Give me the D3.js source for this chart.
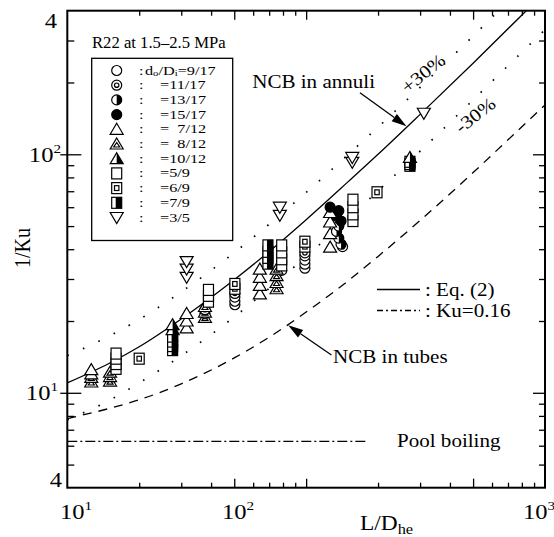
<!DOCTYPE html>
<html>
<head>
<meta charset="utf-8">
<script src="https://cdn.jsdelivr.net/npm/d3@7"></script>
<style>
body{margin:0;background:#fff;}
svg{display:block;}
svg text{font-family:'Liberation Serif','Times New Roman',Times,'DejaVu Serif',serif;}
.tick line{stroke:#000;stroke-width:1.3;}
.axis path{display:none;}
</style>
</head>
<body>
<div id="chart"></div>
<script>
//tick values
const xTickMinor = [20,30,40,60,70,80,90,200,300,400,600,700,800,900];
const xTickMajor = [50,100,500];
const yTickMinor = [5,6,7,8,9,20,30,40,50,60,70,80,90,200,300];
const yTickMajor = [10,100];

//curves: [L/Dhe, 1/Ku]
const eq2 = [[10,11.0],[15,13.3],[20,15.6],[30,20.4],[50,29.8],[70,39.1],[100,53.2],[150,76.8],[200,100],[300,147],[500,241],[835,400]];
const plus30 = [[10,14.3],[15,17.3],[20,20.3],[30,26.5],[50,38.7],[70,50.9],[100,69.2],[150,99.8],[200,130],[300,191],[500,313],[640,400]];
const minus30 = [[10,7.7],[15,9.3],[20,11.0],[30,14.3],[50,20.8],[70,27.4],[100,37.3],[150,53.7],[200,70.2],[300,103],[500,169],[700,235],[1000,333]];
const tubes = [[10,7.8],[15,8.6],[20,9.35],[30,10.9],[50,14.0],[70,17.1],[100,21.8],[150,29.5],[200,37.3],[300,52.8],[500,83.8],[700,115],[1000,161]];
const pool = [[10,6.25],[181,6.25]];

//measured points per do/Di
const s917  = [[37.7,21.5],[50.3,25.2],[50.3,24.2],[50.3,23.4],[79,32.6],[98.8,37.5],[98.8,36],[98.8,34.6],[98.8,33.3]];
const s1117 = [[37.7,22.3],[50.3,26.1],[98.8,38.6],[142,41]];
const s1317 = [[134,47.5],[137,44.5],[140,42],[137,50]];
const s1517 = [[126,60],[137,58],[134,55],[140,52.5]];
const s712  = [[12.6,12.5],[12.6,12.0],[31.6,21.5],[31.6,20.0],[31.6,18.7],[64,33],[64,30.5],[64,28.2],[64,26],[126,57],[126,52],[126,46.5],[126,40.8]];
const s812  = [[12.6,11.6],[12.6,11.1],[15.1,12.2],[15.1,11.7],[15.1,11.2],[37.7,23],[37.7,21.8],[37.7,20.7],[75.2,33],[75.2,31],[75.2,29],[75.2,27.3]];
const s1012 = [[27.6,19.3],[27.6,18.4],[272,97]];
const s59   = [[16,14.6],[16,13.9],[16,13.2],[16,12.6],[39,27],[39,25.5],[39,24.1],[79,41.5],[79,38.8],[79,36.3],[79,34.2],[157,64.5],[157,60],[157,56],[157,52.5]];
const s69   = [[20,13.9],[50.3,28.6],[50.3,27.3],[98.8,43],[98.8,41],[198,69.3]];
const s79   = [[27.6,17.2],[27.6,16.4],[27.6,15.7],[27.6,15.1],[69.2,41.5],[69.2,39],[69.2,36.8],[69.2,34.8],[272,93],[272,91],[272,89.5]];
const s35   = [[31.6,35.5],[31.6,33],[31.6,30.5],[77.6,60],[77.6,55.5],[156,97],[156,92.5],[311,148.6]];

const seriesLabels = ['9/17','=11/17','=13/17','=15/17','=\u20077/12','=\u20078/12','=10/12','=5/9','=6/9','=7/9','=3/5'];
const seriesSymbols = ['circle','circle2','circleHalf','circleFill','tri','tri2','triHalf','square','square2','squareHalf','triDown'];
const seriesData = [s917,s1117,s1317,s1517,s712,s812,s1012,s59,s69,s79,s35];

const SX = 1.17; //the figure is stretched sideways

function Chart(){
	const width = 554, height = 537;
	const margin = {t:10.7,r:9,b:49.3,l:67.3};
	const w = width - margin.l - margin.r;
	const h = height - margin.t - margin.b;

	const svg = d3.select('#chart').append('svg')
		.attr('width',width)
		.attr('height',height);

	const scaleX = d3.scaleLog().domain([10,1000]).range([0,w]);
	const scaleY = d3.scaleLog().domain([4,400]).range([h,0]);

	const plot = svg.append('g')
		.attr('transform',`translate(${margin.l},${margin.t})`);

	function txt(parent,x,y,size,anchor,rot,sx){
		return parent.append('text')
			.attr('transform',`translate(${x},${y})` + (rot ? ` rotate(${rot})` : '') + ` scale(${sx || SX},1)`)
			.attr('font-size',size)
			.attr('text-anchor',anchor || 'start');
	}

	//ticks
	const tk = (axis,vals,size,tr) => plot.append('g').attr('class','axis')
		.attr('transform',tr || null)
		.call(axis.tickValues(vals).tickSize(size).tickFormat(''));
	tk(d3.axisBottom(scaleX),xTickMinor,-5,`translate(0,${h})`);
	tk(d3.axisBottom(scaleX),xTickMajor,-9,`translate(0,${h})`);
	tk(d3.axisTop(scaleX),xTickMinor,-5);
	tk(d3.axisTop(scaleX),xTickMajor,-9);
	tk(d3.axisLeft(scaleY),yTickMinor,-7);
	tk(d3.axisLeft(scaleY),yTickMajor,-14);
	tk(d3.axisLeft(scaleY),yTickMajor,7);
	tk(d3.axisRight(scaleY),yTickMinor,-6,`translate(${w},0)`);
	tk(d3.axisRight(scaleY),yTickMajor,-12,`translate(${w},0)`);

	//curves
	const line = d3.line()
		.x(d => scaleX(d[0]))
		.y(d => scaleY(d[1]))
		.curve(d3.curveMonotoneX);
	const curve = (data,dash,sw) => plot.append('path')
		.datum(data)
		.attr('d',line)
		.attr('fill','none')
		.attr('stroke','#000')
		.attr('stroke-width',sw)
		.attr('stroke-dasharray',dash);
	curve(eq2,null,1.3);
	curve(plus30,'1.6,15.5',1.7);
	curve(minus30,'1.6,15.5',1.7);
	curve(tubes,'9,7',1.3);
	curve(pool,'10,3,2,3',1.3);

	//symbols
	function symbol(g,type){
		const tri = 'M0,-6L6.5,5L-6.5,5Z';
		const sw = 1.2;
		if(type.startsWith('circle')){
			g.append('circle').attr('r',5)
				.attr('fill',type === 'circleFill' ? '#000' : '#fff')
				.attr('stroke','#000').attr('stroke-width',sw);
			if(type === 'circle2') g.append('circle').attr('r',2.2).attr('fill','none').attr('stroke','#000').attr('stroke-width',sw);
			if(type === 'circleHalf') g.append('path').attr('d','M0,-5A5,5 0 0 1 0,5Z').attr('fill','#000');
		} else if(type === 'triDown'){
			g.append('path').attr('d','M-6.5,-5L6.5,-5L0,6Z').attr('fill','#fff').attr('stroke','#000').attr('stroke-width',sw);
		} else if(type.startsWith('tri')){
			g.append('path').attr('d',tri).attr('fill','#fff').attr('stroke','#000').attr('stroke-width',sw);
			if(type === 'tri2') g.append('path').attr('d','M0,-1.5L3,3L-3,3Z').attr('fill','none').attr('stroke','#000').attr('stroke-width',sw);
			if(type === 'triHalf') g.append('path').attr('d','M0,-6L6.5,5L0,5Z').attr('fill','#000');
		} else {
			g.append('rect').attr('x',-5).attr('y',-5.5).attr('width',10).attr('height',11)
				.attr('fill','#fff').attr('stroke','#000').attr('stroke-width',sw);
			if(type === 'square2') g.append('rect').attr('x',-2.2).attr('y',-2.4).attr('width',4.4).attr('height',4.8).attr('fill','none').attr('stroke','#000').attr('stroke-width',sw);
			if(type === 'squareHalf') g.append('rect').attr('x',-1).attr('y',-5.5).attr('width',6).attr('height',11).attr('fill','#000');
		}
	}

	//points, lower ones first so upper ones sit on top
	const pts = [];
	seriesData.forEach((s,i) => s.forEach(d => pts.push({x:d[0],y:d[1],type:seriesSymbols[i]})));
	pts.sort((a,b) => a.y - b.y);
	plot.selectAll('.pt')
		.data(pts)
		.enter()
		.append('g')
		.attr('class','pt')
		.attr('transform',d => `translate(${scaleX(d.x)},${scaleY(d.y)})`)
		.each(function(d){ symbol(d3.select(this),d.type); });

	//frame
	plot.append('rect')
		.attr('width',w).attr('height',h)
		.attr('fill','none').attr('stroke','#000').attr('stroke-width',2);

	//legend box
	svg.append('rect')
		.attr('x',91.7).attr('y',58.3).attr('width',141).attr('height',182.2)
		.attr('fill','#fff').attr('stroke','#000').attr('stroke-width',1.3);
	txt(svg,92,48,17,null,null,0.98).text('R22 at 1.5\u20132.5 MPa');

	const LS = 1.25;
	seriesLabels.forEach((lab,i) => {
		const yy = 70.5 + i*14.7;
		symbol(svg.append('g').attr('transform',`translate(116.7,${yy})`),seriesSymbols[i]);
		const t = txt(svg,139,yy+4,13,null,null,LS);
		t.append('tspan').text(':');
		if(i === 0){
			t.append('tspan').attr('x',(145-139)/LS).text('d');
			t.append('tspan').attr('font-size',8.5).attr('dy',1.5).text('o');
			t.append('tspan').attr('dy',-1.5).text('/D');
			t.append('tspan').attr('font-size',8.5).attr('dy',1.5).text('i');
			t.append('tspan').attr('dy',-1.5).text('=' + lab);
		} else {
			t.append('tspan').attr('x',(160-139)/LS).text(lab);
		}
	});

	//annotations
	function arrow(x0,y0,x1,y1){
		const a = Math.atan2(y1-y0,x1-x0);
		const L = 15, W = 4.5;
		const bx = x1 - L*Math.cos(a), by = y1 - L*Math.sin(a);
		plot.append('line').attr('x1',x0).attr('y1',y0).attr('x2',bx).attr('y2',by)
			.attr('stroke','#000').attr('stroke-width',1.3);
		plot.append('path')
			.attr('d',`M${x1},${y1}L${bx - W*Math.sin(a)},${by + W*Math.cos(a)}L${bx + W*Math.sin(a)},${by - W*Math.cos(a)}Z`)
			.attr('fill','#000');
	}
	arrow(scaleX(168),scaleY(181),scaleX(263),scaleY(131));
	arrow(scaleX(127.6),scaleY(14.4),scaleX(84.1),scaleY(19.2));

	txt(svg,375,87.5,18,'end').text('NCB in annuli');
	txt(svg,427,78,18,'middle',-39).text('+30%');
	txt(svg,479,120,18,'middle',-38).text('-30%');
	txt(svg,333,363,18).text('NCB in tubes');
	txt(svg,397,447,18).text('Pool boiling');

	svg.append('line').attr('x1',377).attr('x2',420).attr('y1',289.5).attr('y2',289.5)
		.attr('stroke','#000').attr('stroke-width',1.3);
	svg.append('line').attr('x1',377).attr('x2',420).attr('y1',310.5).attr('y2',310.5)
		.attr('stroke','#000').attr('stroke-width',1.3).attr('stroke-dasharray','6,3,2,3');
	txt(svg,425,296,18).text(': Eq. (2)');
	txt(svg,425,317,18).text(': Ku=0.16');

	//tick labels
	const pow = (x,y,base,exp,anchor) => {
		const t = txt(svg,x,y,21,anchor);
		t.append('tspan').text(base);
		if(exp) t.append('tspan').attr('font-size',13).attr('dy',-9).text(exp);
		return t;
	};
	pow(57,28,'4',null,'end');
	pow(61,161.5,'10','2','end');
	pow(58,399.5,'10','1','end');
	pow(62,487,'4',null,'end');
	pow(60,518.5,'10','1');
	pow(222,519,'10','2');
	pow(523,519,'10','3');

	//axis titles
	svg.append('text')
		.attr('transform','translate(30,248) rotate(-90) scale(1,1.17)')
		.attr('font-size',20)
		.attr('text-anchor','middle')
		.text('1/Ku');
	const tx = txt(svg,360,530,20);
	tx.append('tspan').text('L/D');
	tx.append('tspan').attr('font-size',14).attr('dy',4).text('he');
}

Chart();
</script>
</body>
</html>
